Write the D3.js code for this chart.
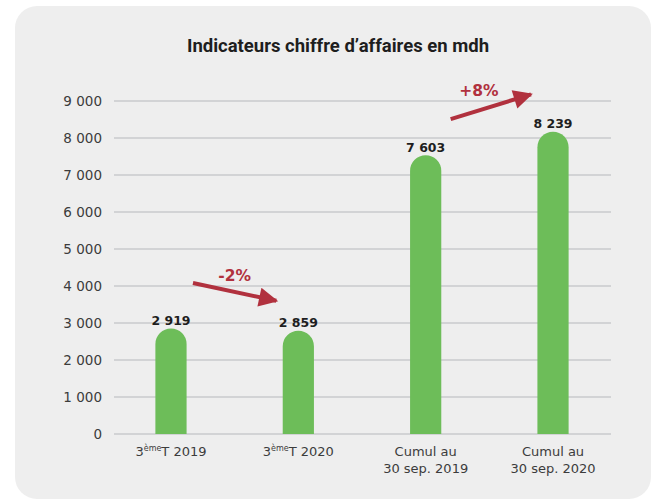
<!DOCTYPE html>
<html>
<head>
<meta charset="utf-8">
<script src="https://cdn.jsdelivr.net/npm/d3@7"></script>
<style>
  body { margin: 0; background: #fff; }
  svg { display: block; }
</style>
</head>
<body>
<div id="chart"></div>
<script>
// data
const categories = ["3eT 2019", "3eT 2020", "Cumul 2019", "Cumul 2020"];
const labelLines = [
  [["3", "ème", "T 2019"]],
  [["3", "ème", "T 2020"]],
  [["Cumul au"], ["30 sep. 2019"]],
  [["Cumul au"], ["30 sep. 2020"]],
];
const values = [2919, 2859, 7603, 8239];
const yTicks = [0, 1000, 2000, 3000, 4000, 5000, 6000, 7000, 8000, 9000];
// change annotations: from bar index to bar index, label, arrow ends in data units
const changes = [
  { from: 0, to: 1, label: "-2%", y0: 4080, y1: 3600 },
  { from: 2, to: 3, label: "+8%", y0: 8510, y1: 9180 },
];

const width = 653;
const height = 500;
const green = "#6dbd59";
const red = "#b1313e";
const font = "'DejaVu Sans', sans-serif";

const svg = d3
  .select("#chart")
  .append("svg")
  .attr("width", width)
  .attr("height", height);

// card background
svg
  .append("rect")
  .attr("x", 15)
  .attr("y", 6)
  .attr("width", 636)
  .attr("height", 493)
  .attr("rx", 22)
  .attr("fill", "#eeeeee");

svg
  .append("text")
  .attr("x", 338)
  .attr("y", 52)
  .attr("text-anchor", "middle")
  .style("font-family", "Roboto, sans-serif")
  .style("font-weight", "700")
  .style("font-size", "18.5px")
  .attr("fill", "#1e1e1e")
  .text("Indicateurs chiffre d’affaires en mdh");

const xScale = d3
  .scaleBand()
  .domain(categories)
  .range([107, 617])
  .paddingInner(0.755)
  .paddingOuter(0.38);

const yScale = d3.scaleLinear().domain([0, 9000]).range([434, 101]);

const spaced = (d) => d3.format(",")(d).replace(/,/g, " ");

svg
  .append("g")
  .selectAll("line")
  .data(yTicks)
  .join("line")
  .attr("x1", 114)
  .attr("x2", 611)
  .attr("y1", (d) => yScale(d))
  .attr("y2", (d) => yScale(d))
  .attr("stroke", "#c9cacc")
  .attr("stroke-width", 1.6);

svg
  .append("g")
  .attr("transform", "translate(102,0)")
  .call(d3.axisLeft(yScale).tickValues(yTicks).tickSize(0).tickPadding(0).tickFormat(spaced))
  .call((axis) => axis.select(".domain").remove())
  .call((axis) =>
    axis
      .selectAll(".tick text")
      .attr("fill", "#3c3c3c")
      .style("font-family", font)
      .style("font-size", "13.5px"),
  );

// bars with rounded tops
const bw = xScale.bandwidth();
const r = bw / 2;
svg
  .append("g")
  .selectAll("path")
  .data(values)
  .join("path")
  .attr("fill", green)
  .attr("d", (d, i) => {
    const x0 = xScale(categories[i]);
    const top = yScale(d) + 2.5;
    const base = yScale(0);
    return `M${x0},${base}V${top + r}A${r},${r} 0 0 1 ${x0 + bw},${top + r}V${base}Z`;
  });

svg
  .append("g")
  .selectAll("text")
  .data(values)
  .join("text")
  .attr("x", (d, i) => xScale(categories[i]) + bw / 2)
  .attr("y", (d) => yScale(d) - 1)
  .attr("text-anchor", "middle")
  .style("font-family", font)
  .style("font-weight", "700")
  .style("font-size", "12.5px")
  .attr("fill", "#1e1e1e")
  .text(spaced);

// category labels
svg
  .append("g")
  .selectAll("text")
  .data(labelLines)
  .join("text")
  .attr("text-anchor", "middle")
  .attr("y", 456)
  .style("font-family", font)
  .style("font-size", "13px")
  .attr("fill", "#3c3c3c")
  .each(function (lines, i) {
    const cx = xScale(categories[i]) + bw / 2;
    const t = d3.select(this);
    lines.forEach((parts, li) => {
      t.append("tspan").attr("x", cx).attr("dy", li ? 17 : 0).text(parts[0]);
      if (parts.length === 3) {
        t.append("tspan").attr("dy", -5).style("font-size", "8px").text(parts[1]);
        t.append("tspan").attr("dy", 5).text(parts[2]);
      }
    });
  });

// change arrows
svg
  .append("defs")
  .append("marker")
  .attr("id", "head")
  .attr("viewBox", "0 0 10 10")
  .attr("refX", 9)
  .attr("refY", 5)
  .attr("markerWidth", 6.5)
  .attr("markerHeight", 4.8)
  .attr("markerUnits", "strokeWidth")
  .attr("orient", "auto")
  .append("path")
  .attr("d", "M0,0L10,5L0,10Z")
  .attr("fill", red);

changes.forEach((c) => {
  const up = c.y1 > c.y0;
  const xa = xScale(categories[c.from]) + bw / 2 + (up ? 25 : 22);
  const xb = xScale(categories[c.to]) + bw / 2 - 22;
  const ya = yScale(c.y0);
  const yb = yScale(c.y1);
  svg
    .append("line")
    .attr("x1", xa)
    .attr("y1", ya)
    .attr("x2", xb)
    .attr("y2", yb)
    .attr("stroke", red)
    .attr("stroke-width", 4)
    .attr("marker-end", "url(#head)");
  svg
    .append("text")
    .attr("x", (xa + xb) / 2 + (up ? -12 : 0))
    .attr("y", (ya + yb) / 2 - 11)
    .attr("text-anchor", "middle")
    .style("font-family", font)
    .style("font-weight", "700")
    .style("font-size", "15.5px")
    .attr("fill", red)
    .text(c.label);
});
</script>
</body>
</html>
